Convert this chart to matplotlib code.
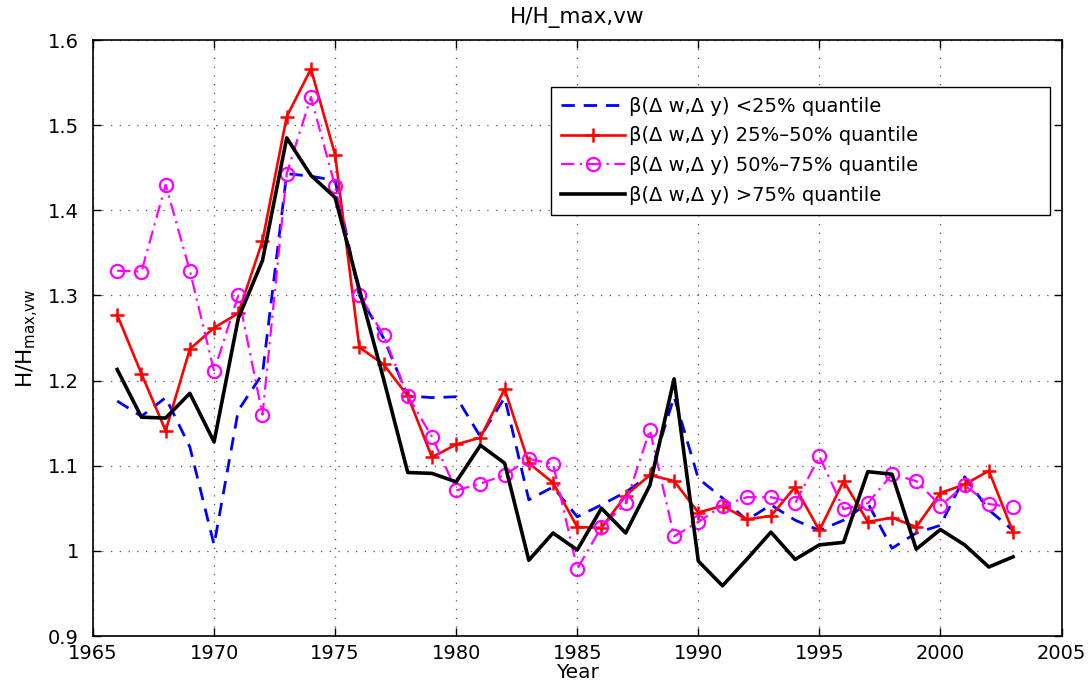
import matplotlib
matplotlib.use("Agg")
import matplotlib.pyplot as plt
from matplotlib.ticker import FuncFormatter, MultipleLocator

years = list(range(1966, 2004))

# beta(dw, dy) < 25% quantile
q_low = [1.176, 1.158, 1.180, 1.122, 1.007, 1.165, 1.208, 1.443, 1.440, 1.435,
         1.300, 1.250, 1.182, 1.180, 1.181, 1.134, 1.180, 1.060, 1.075, 1.040,
         1.054, 1.069, 1.089, 1.181, 1.085, 1.062, 1.036, 1.054, 1.036, 1.024,
         1.036, 1.056, 1.003, 1.021, 1.030, 1.087, 1.048, 1.024]

# beta(dw, dy) 25%-50% quantile
q_mid_low = [1.277, 1.208, 1.141, 1.237, 1.262, 1.279, 1.364, 1.510, 1.566, 1.465,
             1.239, 1.219, 1.182, 1.110, 1.125, 1.133, 1.190, 1.103, 1.080, 1.028,
             1.027, 1.065, 1.089, 1.082, 1.045, 1.053, 1.037, 1.041, 1.075, 1.024,
             1.082, 1.034, 1.039, 1.028, 1.068, 1.078, 1.094, 1.022]

# beta(dw, dy) 50%-75% quantile
q_mid_high = [1.329, 1.328, 1.430, 1.329, 1.211, 1.300, 1.160, 1.443, 1.533, 1.428,
              1.301, 1.253, 1.182, 1.134, 1.071, 1.079, 1.089, 1.108, 1.102, 0.979,
              1.028, 1.056, 1.142, 1.017, 1.034, 1.053, 1.063, 1.063, 1.056, 1.111,
              1.049, 1.056, 1.090, 1.082, 1.053, 1.077, 1.055, 1.051]

# beta(dw, dy) > 75% quantile
q_high = [1.213, 1.157, 1.156, 1.185, 1.128, 1.273, 1.341, 1.485, 1.441, 1.415,
          1.307, 1.202, 1.092, 1.091, 1.081, 1.124, 1.103, 0.989, 1.021, 1.001,
          1.050, 1.021, 1.077, 1.202, 0.988, 0.959, 0.990, 1.022, 0.990, 1.007,
          1.010, 1.093, 1.090, 1.002, 1.025, 1.007, 0.981, 0.993]

labels = [r"β(Δ w,Δ y) <25% quantile",
          r"β(Δ w,Δ y) 25%–50% quantile",
          r"β(Δ w,Δ y) 50%–75% quantile",
          r"β(Δ w,Δ y) >75% quantile"]

plt.rcParams["font.family"] = ["DejaVu Sans"]
fs = 14

fig = plt.figure(figsize=(10.91, 6.86), dpi=100)
ax = fig.add_axes([93 / 1091, 1 - 636 / 686, (1061.5 - 93) / 1091, (636 - 40) / 686])

ax.plot(years, q_low, color=(0, 0, 1), lw=2.0, dashes=(4.8, 3.2), label=labels[0])
ax.plot(years, q_mid_low, color=(1, 0, 0), lw=1.9, marker="+", markersize=10,
        markeredgewidth=1.8, label=labels[1])
ax.plot(years, q_mid_high, color=(1, 0, 1), lw=1.6, dashes=(6, 2.5, 1, 2.5),
        marker="o", markersize=9.5, markerfacecolor="none", markeredgewidth=1.6,
        label=labels[2])
ax.plot(years, q_high, color="black", lw=2.6, label=labels[3])

ax.set_xlim(1965, 2005)
ax.set_ylim(0.9, 1.6)
ax.xaxis.set_major_locator(MultipleLocator(5))
ax.yaxis.set_major_locator(MultipleLocator(0.1))
ax.yaxis.set_major_formatter(FuncFormatter(lambda v, p: "%g" % round(v, 2)))

ax.grid(True, color="#555555", linestyle=(0, (1, 6)), linewidth=0.9)
ax.tick_params(direction="in", top=True, right=True, length=6, width=1,
               labelsize=fs)
ax.tick_params(axis="y", pad=10)
ax.tick_params(axis="x", pad=6)
for s in ax.spines.values():
    s.set_linewidth(1.2)

ax.set_title("H/H_max,vw", fontsize=15.5, pad=12)
ax.set_xlabel("Year", fontsize=fs + 0.5, labelpad=0)
ax.set_ylabel(r"H/H$_{\mathrm{max{,}vw}}$", fontsize=15.5, labelpad=5)

leg = ax.legend(loc="upper left",
                bbox_to_anchor=(551 / 1091, 1 - 87 / 686 - 0.01, (1050 - 551) / 1091, 0.01),
                bbox_transform=fig.transFigure, mode="expand",
                fontsize=fs, frameon=True, fancybox=False, framealpha=1,
                edgecolor="black", borderaxespad=0, handlelength=3.3,
                handletextpad=0.2, labelspacing=0.55, borderpad=0.5)
leg.get_frame().set_linewidth(1.0)

fig.savefig("out.png", dpi=100)
